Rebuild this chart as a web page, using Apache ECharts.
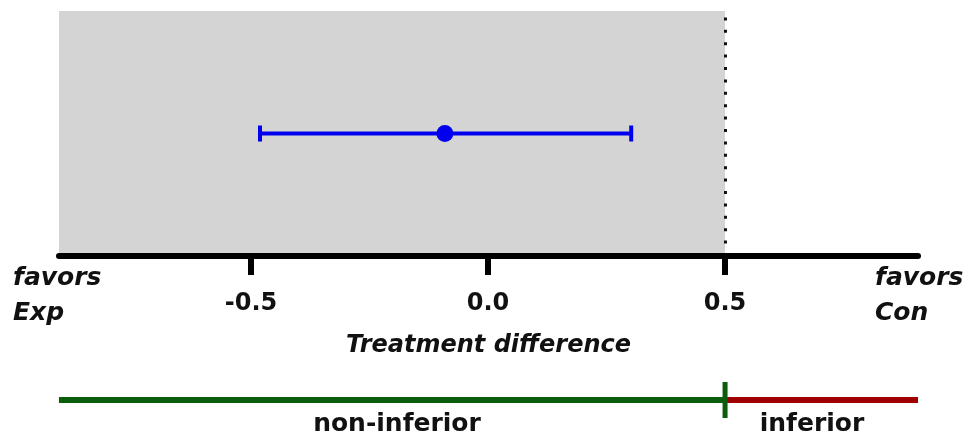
<!DOCTYPE html>
<html>
<head>
<meta charset="utf-8">
<script src="https://cdn.jsdelivr.net/npm/echarts@6/dist/echarts.min.js"></script>
<style>
  html, body { margin: 0; padding: 0; background: #fff; }
  #chart { width: 966px; height: 436px; }
</style>
</head>
<body>
<div id="chart"></div>
<script>
// data
const axisRange = [-0.905, 0.907];
const tickValues = [-0.5, 0, 0.5];
const margin = 0.5;                 // non-inferiority margin
const estimate = [-0.091];          // point estimate
const ciLow = [-0.481];
const ciHigh = [0.302];
const rowY = [1];
const zoneLabels = ['non-inferior', 'inferior'];

const FONT = 'DejaVu Sans';
const chart = echarts.init(document.getElementById('chart'));

const option = {
    animation: false,
    backgroundColor: '#fff',
    grid: [
        {left: 59, right: 48, top: 11, height: 245},
        {left: 59, right: 48, top: 382, height: 36}
    ],
    xAxis: [
        {
            type: 'value',
            gridIndex: 0,
            z: 5,
            min: axisRange[0],
            max: axisRange[1],
            splitLine: {show: false},
            axisLine: {lineStyle: {color: '#000', width: 6}},
            axisTick: {customValues: tickValues, length: 19, lineStyle: {color: '#000', width: 6}},
            axisLabel: {
                customValues: tickValues,
                formatter: v => v.toFixed(1),
                margin: 36,
                color: '#111',
                fontFamily: FONT,
                fontWeight: 'bold',
                fontSize: 24
            },
            name: 'Treatment difference',
            nameLocation: 'middle',
            nameGap: 78,
            nameTextStyle: {color: '#111', fontFamily: FONT, fontWeight: 'bold', fontStyle: 'italic', fontSize: 24}
        },
        {type: 'value', gridIndex: 1, min: axisRange[0], max: axisRange[1], show: false}
    ],
    yAxis: [
        {type: 'value', gridIndex: 0, min: 0, max: 2, show: false},
        {type: 'value', gridIndex: 1, min: 0, max: 2, show: false}
    ],
    graphic: [
        {type: 'text', left: 13, top: 261, style: {text: 'favors\nExp', lineHeight: 35, fill: '#111',
            font: 'italic bold 25px "' + FONT + '"'}},
        {type: 'text', left: 875, top: 261, style: {text: 'favors\nCon', lineHeight: 35, fill: '#111',
            font: 'italic bold 25px "' + FONT + '"'}},
        {type: 'text', x: 397, y: 412, style: {text: zoneLabels[0], fill: '#111', align: 'center',
            font: 'bold 25px "' + FONT + '"'}},
        {type: 'text', x: 812, y: 412, style: {text: zoneLabels[1], fill: '#111', align: 'center',
            font: 'bold 25px "' + FONT + '"'}}
    ],
    series: [
        {
            // shaded non-inferiority region
            type: 'line',
            xAxisIndex: 0, yAxisIndex: 0,
            z: -1,
            data: [],
            markArea: {
                silent: true,
                itemStyle: {color: '#d4d4d4'},
                data: [[{xAxis: axisRange[0]}, {xAxis: margin}]]
            }
        },
        {
            type: 'custom',
            xAxisIndex: 0, yAxisIndex: 0,
            data: ciLow.map((lo, i) => [lo, ciHigh[i], rowY[i]]),
            renderItem: function (params, api) {
                const a = api.coord([api.value(0), api.value(2)]);
                const b = api.coord([api.value(1), api.value(2)]);
                const h = 8;
                const style = {stroke: '#0000ee', lineWidth: 4};
                return {
                    type: 'group',
                    children: [
                        {type: 'line', shape: {x1: a[0], y1: a[1], x2: b[0], y2: b[1]}, style: style},
                        {type: 'line', shape: {x1: a[0], y1: a[1] - h, x2: a[0], y2: a[1] + h}, style: style},
                        {type: 'line', shape: {x1: b[0], y1: b[1] - h, x2: b[0], y2: b[1] + h}, style: style}
                    ]
                };
            },
            markLine: {
                silent: true,
                symbol: 'none',
                label: {show: false},
                lineStyle: {color: '#111', width: 3, type: [3, 9.4]},
                data: [{xAxis: margin}]
            }
        },
        {
            type: 'scatter',
            xAxisIndex: 0, yAxisIndex: 0,
            symbolSize: 17,
            itemStyle: {color: '#0000ee', opacity: 1},
            data: estimate.map((v, i) => [v, rowY[i]])
        },
        {
            type: 'line',
            xAxisIndex: 1, yAxisIndex: 1,
            symbol: 'none',
            lineStyle: {color: '#0b5c0b', width: 6},
            data: [[axisRange[0], 1], [margin, 1]]
        },
        {
            type: 'line',
            xAxisIndex: 1, yAxisIndex: 1,
            symbol: 'none',
            lineStyle: {color: '#a00000', width: 6},
            data: [[margin, 1], [axisRange[1], 1]]
        },
        {
            type: 'line',
            xAxisIndex: 1, yAxisIndex: 1,
            symbol: 'none',
            z: 3,
            lineStyle: {color: '#0b5c0b', width: 5},
            data: [[margin, 0], [margin, 2]]
        }
    ]
};

chart.setOption(option);
</script>
</body>
</html>
